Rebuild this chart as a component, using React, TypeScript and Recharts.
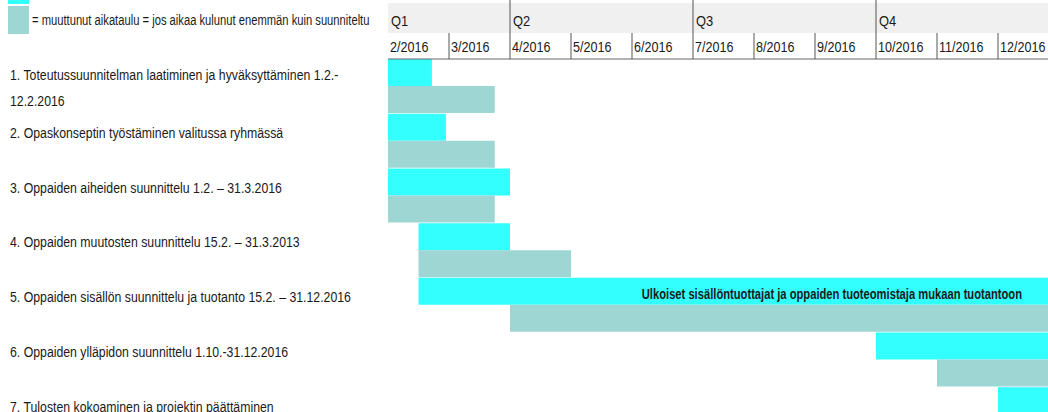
import React from "react";
import { BarChart, Bar, XAxis, YAxis, LabelList } from "recharts";

const CYAN = "#33ffff";
const TEAL = "#9ed6d3";
const FONT = '"Liberation Sans", Arial, sans-serif';

const tasks = [
  "1. Toteutussuunnitelman laatiminen ja hyväksyttäminen 1.2.-\n12.2.2016",
  "2. Opaskonseptin työstäminen valitussa ryhmässä",
  "3. Oppaiden aiheiden suunnittelu 1.2. – 31.3.2016",
  "4. Oppaiden muutosten suunnittelu 15.2. – 31.3.2013",
  "5. Oppaiden sisällön suunnittelu ja tuotanto 15.2. – 31.12.2016",
  "6. Oppaiden ylläpidon suunnittelu 1.10.-31.12.2016",
  "7. Tulosten kokoaminen ja projektin päättäminen",
];

// months counted from 1.2.2016 (0 = start of 2/2016, 11 = end of 12/2016)
const planned: [number, number][] = [
  [0, 0.72],
  [0, 0.95],
  [0, 2],
  [0.5, 2],
  [0.5, 11],
  [8, 11],
  [10, 11],
];
const changed: [number, number][] = [
  [0, 1.75],
  [0, 1.75],
  [0, 1.75],
  [0.5, 3],
  [2, 11],
  [9, 11],
  [10, 11],
];
const notes: (string | undefined)[] = [
  undefined,
  undefined,
  undefined,
  undefined,
  "Ulkoiset sisällöntuottajat ja oppaiden tuoteomistaja mukaan tuotantoon",
  undefined,
  undefined,
];

const monthTicks = [0, 1, 2, 3, 4, 5, 6, 7, 8, 9, 10];
const monthLabels = [
  "2/2016", "3/2016", "4/2016", "5/2016", "6/2016", "7/2016",
  "8/2016", "9/2016", "10/2016", "11/2016", "12/2016",
];
const quarterStarts = [0, 2, 5, 8];
const quarterLabels = ["Q1", "Q2", "Q3", "Q4"];

const legendItems = [
  { label: "= projektin alkuperäinen aikataulu", color: CYAN },
  { label: "= muuttunut aikataulu = jos aikaa kulunut enemmän kuin suunniteltu", color: TEAL },
];

const data = tasks.map((task, i) => ({
  task,
  plan: planned[i],
  change: changed[i],
  note: notes[i],
}));

const CondText = ({ x, y, size, sx, weight, anchor, children }: any) => (
  <text
    transform={`translate(${x},${y}) scale(${sx},1)`}
    dominantBaseline="central"
    textAnchor={anchor || "start"}
    fontFamily={FONT}
    fontSize={size}
    fontWeight={weight || "normal"}
    fill="#1a1a1a"
  >
    {children}
  </text>
);

const MonthTick = (props: any) => {
  const { x, y, payload } = props;
  const v = payload.value as number;
  const qi = quarterStarts.indexOf(v);
  return (
    <g>
      {v === 0 && <rect x={x} y={y - 56} width={2000} height={30} fill="#f0f0f0" />}
      {v > 0 && (
        <line x1={x} x2={x} y1={qi >= 0 ? y - 59 : y - 26} y2={y} stroke="#555" strokeWidth={1} />
      )}
      <CondText x={x + 2} y={y - 12} size={15} sx={0.84}>
        {monthLabels[v]}
      </CondText>
      {qi >= 0 && (
        <CondText x={x + 3} y={y - 38} size={15} sx={0.86}>
          {quarterLabels[qi]}
        </CondText>
      )}
    </g>
  );
};

const TaskTick = (props: any) => {
  const { x, y, payload } = props;
  const lines = String(payload.value).split("\n");
  const x0 = x - 378;
  const offsets = lines.length > 1 ? [-11, 15] : [-8];
  return (
    <g>
      {lines.map((ln, i) => (
        <CondText key={i} x={x0} y={y + offsets[i]} size={15} sx={0.82}>
          {ln}
        </CondText>
      ))}
    </g>
  );
};

const NoteLabel = (props: any) => {
  const { x, y, width, height, value } = props;
  if (!value) return null;
  return (
    <CondText x={x + width - 37} y={y + height / 2 + 3} size={14} sx={0.8} weight="bold" anchor="end">
      {value}
    </CondText>
  );
};

export default function App() {
  return (
    <div
      style={{
        position: "fixed",
        left: 0,
        top: 0,
        width: 1048,
        height: 412,
        overflow: "hidden",
        background: "#fff",
      }}
    >
      <BarChart
        width={1060}
        height={442}
        data={data}
        layout="vertical"
        margin={{ top: 3, right: 1, bottom: 0, left: 0 }}
        barCategoryGap={0}
        barGap={0}
      >
        <XAxis
          type="number"
          orientation="top"
          domain={[0, 11]}
          ticks={monthTicks}
          interval={0}
          allowDataOverflow
          height={56}
          tickSize={0}
          tickMargin={0}
          tickLine={false}
          axisLine={{ stroke: "#666" }}
          tick={<MonthTick />}
        />
        <YAxis
          type="category"
          dataKey="task"
          width={388}
          tickSize={0}
          tickMargin={0}
          tickLine={false}
          axisLine={false}
          interval={0}
          tick={<TaskTick />}
        />
        <Bar dataKey="plan" fill={CYAN} isAnimationActive={false}>
          <LabelList dataKey="note" content={<NoteLabel />} />
        </Bar>
        <Bar dataKey="change" fill={TEAL} isAnimationActive={false} />
      </BarChart>
      <div style={{ position: "absolute", left: 8, top: -25, fontFamily: FONT, fontSize: 14, color: "#1a1a1a" }}>
        {legendItems.map((it) => (
          <div key={it.label} style={{ display: "flex", alignItems: "center", height: 30 }}>
            <div style={{ width: 21, height: 28, background: it.color, marginRight: 3, flex: "none" }} />
            <span
              style={{
                whiteSpace: "nowrap",
                display: "inline-block",
                transform: "scale(0.8,1)",
                transformOrigin: "left center",
              }}
            >
              {it.label}
            </span>
          </div>
        ))}
      </div>
    </div>
  );
}
